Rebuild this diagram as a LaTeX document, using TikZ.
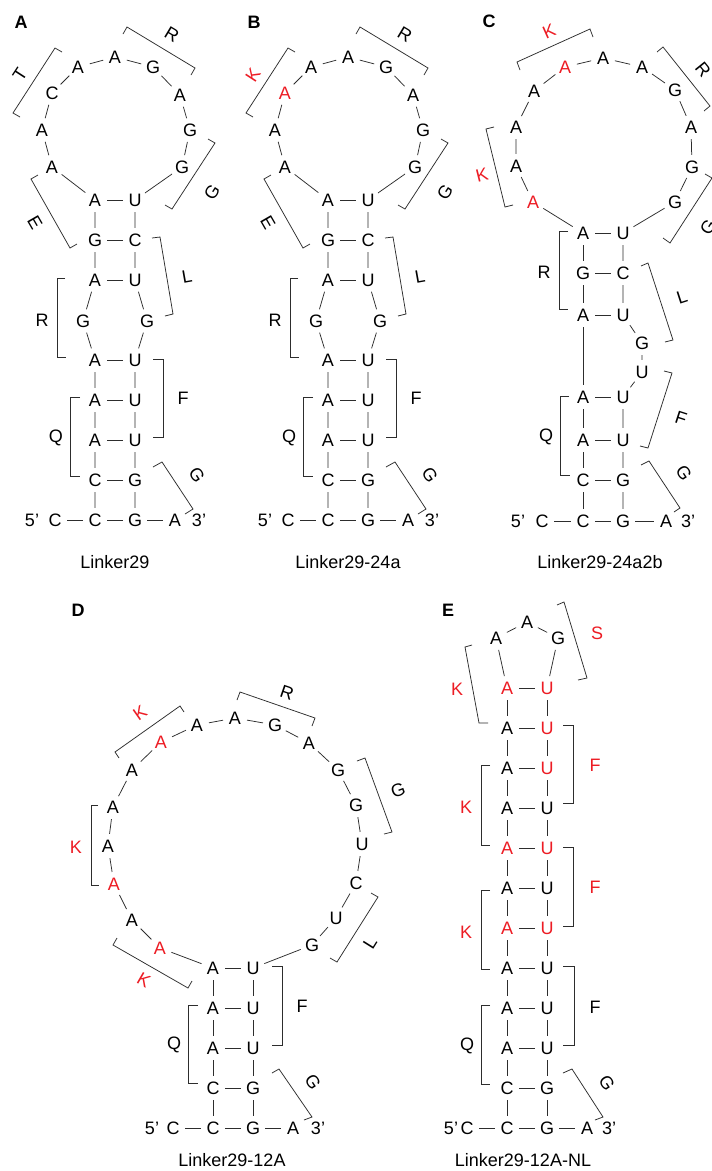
\documentclass[tikz,border=0pt]{standalone}
\usepackage{fontspec}
\setmainfont{Liberation Sans}
\definecolor{myred}{RGB}{237,28,36}
\definecolor{linec}{RGB}{45,45,45}
\newcommand\fs{\fontsize{18}{21}\selectfont}
\tikzset{
 nt/.style={circle,inner sep=0pt,minimum size=24pt,font=\fs},
 rn/.style={nt,text=myred},
 bd/.style={draw=linec,line width=0.75pt},
 brk/.style={draw=linec,line width=0.75pt},
 lab/.style={inner sep=0pt,font=\fs},
 rlab/.style={lab,text=myred},
 pl/.style={inner sep=0pt,font=\fs\bfseries},
}
% #1 prefix, #2 xshift, #3 panel letter, #4 style of 3rd loop node, #5 its letter,
% #6 style of upper-left label, #7 its text, #8 title
\newcommand\panelAB[8]{%
\begin{scope}[xshift=#2pt]
\node[pl] (#1P) at (21,22) {#3};
\node[nt] (#1L1) at (95,200) {A};
\node[nt] (#1L2) at (95,240) {G};
\node[nt] (#1L3) at (95,280) {A};
\node[nt] (#1L4) at (83,321) {G};
\node[nt] (#1L5) at (95,360) {A};
\node[nt] (#1L6) at (95,400) {A};
\node[nt] (#1L7) at (95,440) {A};
\node[nt] (#1L8) at (95,480) {C};
\node[nt] (#1L9) at (95,520) {C};
\node[nt] (#1R1) at (135,200) {U};
\node[nt] (#1R2) at (135,240) {C};
\node[nt] (#1R3) at (135,280) {U};
\node[nt] (#1R4) at (147,321) {G};
\node[nt] (#1R5) at (135,360) {U};
\node[nt] (#1R6) at (135,400) {U};
\node[nt] (#1R7) at (135,440) {U};
\node[nt] (#1R8) at (135,480) {G};
\node[nt] (#1R9) at (135,520) {G};
\node[nt] (#1C5) at (55,520) {C};
\node[nt] (#1A3) at (175,520) {A};
\node[lab] (#1p5) at (32,520) {5’};
\node[lab] (#1p3) at (199,520) {3’};
\node[nt] (#1O1) at (52,167) {A};
\node[nt] (#1O2) at (42,130) {A};
\node[#4] (#1O3) at (52,93) {#5};
\node[nt] (#1O4) at (78,67) {A};
\node[nt] (#1O5) at (115,57) {A};
\node[nt] (#1O6) at (153,67) {G};
\node[nt] (#1O7) at (180,95) {A};
\node[nt] (#1O8) at (190,130) {G};
\node[nt] (#1O9) at (182,167) {G};
\node[lab] (#1T) at (115,562) {#8};
\draw[bd] (#1L1)--(#1O1)--(#1O2)--(#1O3)--(#1O4)--(#1O5)--(#1O6)--(#1O7)--(#1O8)--(#1O9)--(#1R1);
\draw[bd] (#1L1)--(#1L2)--(#1L3)--(#1L4)--(#1L5)--(#1L6)--(#1L7)--(#1L8)--(#1L9);
\draw[bd] (#1R1)--(#1R2)--(#1R3)--(#1R4)--(#1R5)--(#1R6)--(#1R7)--(#1R8)--(#1R9);
\draw[bd] (#1L1)--(#1R1); \draw[bd] (#1L2)--(#1R2); \draw[bd] (#1L3)--(#1R3);
\draw[bd] (#1L5)--(#1R5); \draw[bd] (#1L6)--(#1R6); \draw[bd] (#1L7)--(#1R7);
\draw[bd] (#1L8)--(#1R8); \draw[bd] (#1L9)--(#1R9);
\draw[bd] (#1C5)--(#1L9); \draw[bd] (#1R9)--(#1A3);
\draw[brk] (62,52)--(55,48)--(13,113)--(20,117);
\draw[brk] (123,34)--(127,27)--(195,68)--(191,75);
\draw[brk] (208,139)--(215,143)--(172,209)--(165,205);
\draw[brk] (38,175)--(31,179)--(70,248)--(77,244);
\draw[brk] (152,238)--(160,237)--(173,314)--(165,316);
\draw[brk] (65,278)--(57,278)--(57,357)--(66,357);
\draw[brk] (153,359)--(163,359)--(163,437)--(153,437);
\draw[brk] (80,397)--(70,397)--(70,476)--(80,476);
\draw[brk] (153,467)--(162,462)--(193,509)--(185,514);
\node[#6,rotate=57] (#1b1) at (20,75) {#7};
\node[lab,rotate=-31] (#1b2) at (172,35) {R};
\node[lab,rotate=57] (#1b3) at (212,192) {G};
\node[lab,rotate=-60] (#1b4) at (35,223) {E};
\node[lab,rotate=10] (#1b5) at (187,277) {L};
\node[lab] (#1b6) at (42,320) {R};
\node[lab] (#1b7) at (183,398) {F};
\node[lab] (#1b8) at (56,438) {Q};
\node[lab,rotate=-57] (#1b9) at (197,475) {G};
\end{scope}}
\begin{document}
\begin{tikzpicture}[x=1pt,y=-1pt]
\useasboundingbox[fill=white] (0,0) rectangle (712,1171);
\panelAB{a}{0}{A}{nt}{C}{lab}{T}{Linker29}
\panelAB{b}{233}{B}{rn}{A}{rlab}{K}{Linker29-24a}
% ---------------- Panel C
\node[pl] (cP) at (489,21) {C};
\node[nt] (cL1) at (583,233) {A};
\node[nt] (cL2) at (583,273) {G};
\node[nt] (cL3) at (583,315) {A};
\node[nt] (cL4) at (583,397) {A};
\node[nt] (cL5) at (583,440) {A};
\node[nt] (cL6) at (583,480) {C};
\node[nt] (cL7) at (583,521) {C};
\node[nt] (cR1) at (623,233) {U};
\node[nt] (cR2) at (623,273) {C};
\node[nt] (cR3) at (623,315) {U};
\node[nt] (cB1) at (642,343) {G};
\node[nt] (cB2) at (642,372) {U};
\node[nt] (cR4) at (623,397) {U};
\node[nt] (cR5) at (623,440) {U};
\node[nt] (cR6) at (623,480) {G};
\node[nt] (cR7) at (623,521) {G};
\node[nt] (cC5) at (542,521) {C};
\node[nt] (cA3) at (666,521) {A};
\node[lab] (cp5) at (518,521) {5’};
\node[lab] (cp3) at (688,521) {3’};
\node[rn] (cO1) at (533,202) {A};
\node[nt] (cO2) at (516,166) {A};
\node[nt] (cO3) at (516,127) {A};
\node[nt] (cO4) at (534,91) {A};
\node[rn] (cO5) at (565,67) {A};
\node[nt] (cO6) at (603,58) {A};
\node[nt] (cO7) at (642,67) {A};
\node[nt] (cO8) at (675,90) {G};
\node[nt] (cO9) at (691,127) {A};
\node[nt] (cO10) at (692,167) {G};
\node[nt] (cO11) at (675,202) {G};
\node[lab] (cT) at (600,562) {Linker29-24a2b};
\draw[bd] (cL1)--(cO1)--(cO2)--(cO3)--(cO4)--(cO5)--(cO6)--(cO7)--(cO8)--(cO9)--(cO10)--(cO11)--(cR1);
\draw[bd] (cL1)--(cL2)--(cL3)--(cL4)--(cL5)--(cL6)--(cL7);
\draw[bd] (cR1)--(cR2)--(cR3)--(cB1)--(cB2)--(cR4)--(cR5)--(cR6)--(cR7);
\draw[bd] (cL1)--(cR1); \draw[bd] (cL2)--(cR2); \draw[bd] (cL3)--(cR3);
\draw[bd] (cL4)--(cR4); \draw[bd] (cL5)--(cR5); \draw[bd] (cL6)--(cR6);
\draw[bd] (cL7)--(cR7); \draw[bd] (cC5)--(cL7); \draw[bd] (cR7)--(cA3);
\draw[brk] (520,70)--(517,62)--(590,29)--(593,37);
\draw[brk] (657,52)--(663,47)--(710,106)--(704,111);
\draw[brk] (705,174)--(712,178)--(670,243)--(663,238);
\draw[brk] (494,127)--(486,129)--(505,207)--(513,205);
\draw[brk] (568,231)--(559,231)--(559,309)--(568,309);
\draw[brk] (641,266)--(648,263)--(673,340)--(665,342);
\draw[brk] (664,371)--(672,373)--(648,448)--(640,446);
\draw[brk] (569,396)--(560,396)--(560,475)--(570,475);
\draw[brk] (641,465)--(649,461)--(680,508)--(674,512);
\node[rlab,rotate=24] (cb1) at (549,31) {K};
\node[lab,rotate=-51] (cb2) at (703,70) {R};
\node[lab,rotate=57] (cb3) at (708,227) {G};
\node[rlab,rotate=14] (cb4) at (482,175) {K};
\node[lab] (cb5) at (544,272) {R};
\node[lab,rotate=18] (cb6) at (682,297) {L};
\node[lab,rotate=-18] (cb7) at (681,418) {F};
\node[lab] (cb8) at (546,437) {Q};
\node[lab,rotate=-57] (cb9) at (684,473) {G};
% ---------------- Panel D
\node[pl] (dP) at (78,610) {D};
\node[nt] (dL1) at (213,968) {A};
\node[nt] (dL2) at (213,1008) {A};
\node[nt] (dL3) at (213,1048) {A};
\node[nt] (dL4) at (213,1088) {C};
\node[nt] (dL5) at (213,1128) {C};
\node[nt] (dR1) at (253,968) {U};
\node[nt] (dR2) at (253,1008) {U};
\node[nt] (dR3) at (253,1048) {U};
\node[nt] (dR4) at (253,1088) {G};
\node[nt] (dR5) at (253,1128) {G};
\node[nt] (dC5) at (173,1128) {C};
\node[nt] (dA3) at (293,1128) {A};
\node[lab] (dp5) at (152,1128) {5’};
\node[lab] (dp3) at (318,1128) {3’};
\node[rn] (dO1) at (160,948) {A};
\node[nt] (dO2) at (132,920) {A};
\node[rn] (dO3) at (114,884) {A};
\node[nt] (dO4) at (108,846) {A};
\node[nt] (dO5) at (113,807) {A};
\node[nt] (dO6) at (132,770) {A};
\node[rn] (dO7) at (161,742) {A};
\node[nt] (dO8) at (197,725) {A};
\node[nt] (dO9) at (235,718) {A};
\node[nt] (dO10) at (275,725) {G};
\node[nt] (dO11) at (309,743) {A};
\node[nt] (dO12) at (338,770) {G};
\node[nt] (dO13) at (356,805) {G};
\node[nt] (dO14) at (362,844) {U};
\node[nt] (dO15) at (356,883) {C};
\node[nt] (dO16) at (336,918) {U};
\node[nt] (dO17) at (312,945) {G};
\node[lab] (dT) at (232,1160) {Linker29-12A};
\draw[bd] (dL1)--(dO1)--(dO2)--(dO3)--(dO4)--(dO5)--(dO6)--(dO7)--(dO8)--(dO9)--(dO10)--(dO11)--(dO12)--(dO13)--(dO14)--(dO15)--(dO16)--(dO17)--(dR1);
\draw[bd] (dL1)--(dL2)--(dL3)--(dL4)--(dL5);
\draw[bd] (dR1)--(dR2)--(dR3)--(dR4)--(dR5);
\draw[bd] (dL1)--(dR1); \draw[bd] (dL2)--(dR2); \draw[bd] (dL3)--(dR3);
\draw[bd] (dL4)--(dR4); \draw[bd] (dL5)--(dR5);
\draw[bd] (dC5)--(dL5); \draw[bd] (dR5)--(dA3);
\draw[brk] (119,758)--(115,752)--(180,706)--(184,712);
\draw[brk] (237,700)--(240,692)--(315,718)--(312,726);
\draw[brk] (98,805)--(91,805)--(91,885)--(99,885);
\draw[brk] (117,938)--(113,945)--(188,988)--(192,981);
\draw[brk] (357,761)--(365,758)--(392,832)--(384,834);
\draw[brk] (371,893)--(378,897)--(337,962)--(330,958);
\draw[brk] (272,966)--(282,966)--(282,1045)--(272,1045);
\draw[brk] (198,1005)--(188,1005)--(188,1083)--(198,1083);
\draw[brk] (272,1073)--(279,1069)--(312,1117)--(304,1120);
\node[rlab,rotate=35] (db1) at (140,713) {K};
\node[lab,rotate=-19] (db2) at (287,693) {R};
\node[rlab] (db3) at (76,847) {K};
\node[rlab,rotate=-30] (db4) at (144,980) {K};
\node[lab,rotate=20] (db5) at (398,790) {G};
\node[lab,rotate=58] (db6) at (370,943) {L};
\node[lab] (db7) at (302,1006) {F};
\node[lab] (db8) at (174,1045) {Q};
\node[lab,rotate=-57] (db9) at (313,1082) {G};
% ---------------- Panel E
\node[pl] (eP) at (448,610) {E};
\node[rn] (eL1) at (507,688) {A};
\node[nt] (eL2) at (507,728) {A};
\node[nt] (eL3) at (507,768) {A};
\node[nt] (eL4) at (507,808) {A};
\node[rn] (eL5) at (507,848) {A};
\node[nt] (eL6) at (507,888) {A};
\node[rn] (eL7) at (507,928) {A};
\node[nt] (eL8) at (507,968) {A};
\node[nt] (eL9) at (507,1008) {A};
\node[nt] (eL10) at (507,1048) {A};
\node[nt] (eL11) at (507,1088) {C};
\node[nt] (eL12) at (507,1128) {C};
\node[rn] (eR1) at (547,688) {U};
\node[rn] (eR2) at (547,728) {U};
\node[rn] (eR3) at (547,768) {U};
\node[nt] (eR4) at (547,808) {U};
\node[rn] (eR5) at (547,848) {U};
\node[nt] (eR6) at (547,888) {U};
\node[rn] (eR7) at (547,928) {U};
\node[nt] (eR8) at (547,968) {U};
\node[nt] (eR9) at (547,1008) {U};
\node[nt] (eR10) at (547,1048) {U};
\node[nt] (eR11) at (547,1088) {G};
\node[nt] (eR12) at (547,1128) {G};
\node[nt] (eC5) at (467,1128) {C};
\node[nt] (eA3) at (587,1128) {A};
\node[lab] (ep5) at (451,1128) {5’};
\node[lab] (ep3) at (609,1128) {3’};
\node[nt] (eO1) at (496,638) {A};
\node[nt] (eO2) at (527,622) {A};
\node[nt] (eO3) at (558,638) {G};
\node[lab] (eT) at (523,1160) {Linker29-12A-NL};
\draw[bd] (eL1)--(eO1)--(eO2)--(eO3)--(eR1);
\draw[bd] (eL1)--(eL2)--(eL3)--(eL4)--(eL5)--(eL6)--(eL7)--(eL8)--(eL9)--(eL10)--(eL11)--(eL12);
\draw[bd] (eR1)--(eR2)--(eR3)--(eR4)--(eR5)--(eR6)--(eR7)--(eR8)--(eR9)--(eR10)--(eR11)--(eR12);
\draw[bd] (eL1)--(eR1); \draw[bd] (eL2)--(eR2); \draw[bd] (eL3)--(eR3);
\draw[bd] (eL4)--(eR4); \draw[bd] (eL5)--(eR5); \draw[bd] (eL6)--(eR6);
\draw[bd] (eL7)--(eR7); \draw[bd] (eL8)--(eR8); \draw[bd] (eL9)--(eR9);
\draw[bd] (eL10)--(eR10); \draw[bd] (eL11)--(eR11); \draw[bd] (eL12)--(eR12);
\draw[bd] (eC5)--(eL12); \draw[bd] (eR12)--(eA3);
\draw[brk] (557,605)--(564,602)--(587,678)--(578,680);
\draw[brk] (472,645)--(465,647)--(479,723)--(488,723);
\draw[brk] (563,725)--(573,725)--(573,803)--(563,803);
\draw[brk] (490,765)--(481,765)--(481,845)--(490,845);
\draw[brk] (563,847)--(573,847)--(573,926)--(563,926);
\draw[brk] (490,890)--(481,890)--(481,969)--(490,969);
\draw[brk] (563,966)--(574,966)--(574,1045)--(563,1045);
\draw[brk] (490,1005)--(481,1005)--(481,1084)--(490,1084);
\draw[brk] (563,1073)--(572,1069)--(603,1117)--(595,1120);
\node[rlab] (eb1) at (597,633) {S};
\node[rlab] (eb2) at (457,689) {K};
\node[rlab] (eb3) at (595,765) {F};
\node[rlab] (eb4) at (466,807) {K};
\node[rlab] (eb5) at (595,887) {F};
\node[rlab] (eb6) at (466,932) {K};
\node[lab] (eb7) at (595,1007) {F};
\node[lab] (eb8) at (467,1046) {Q};
\node[lab,rotate=-57] (eb9) at (607,1083) {G};
\end{tikzpicture}
\end{document}
